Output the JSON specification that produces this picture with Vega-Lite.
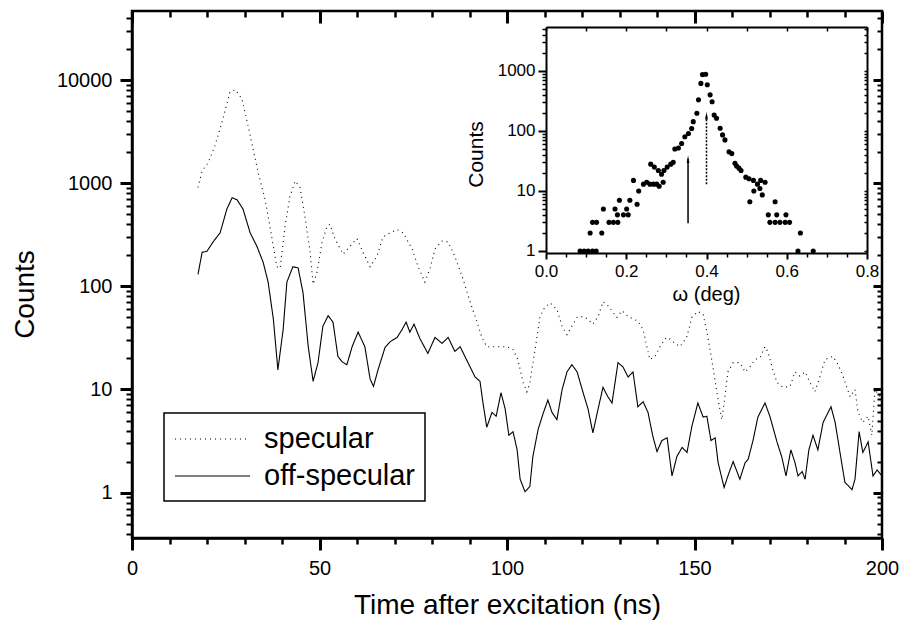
{
"$schema": "https://vega.github.io/schema/vega-lite/v6.json",
"width": 750, "height": 527,
"autosize": {"type": "none"},
"padding": {"left": 132, "top": 11, "right": 23, "bottom": 86},
"config": {
  "font": "Liberation Sans",
  "view": {"stroke": "black", "strokeWidth": 2.5},
  "axis": {"ticks": true, "tickOpacity": 1, "labelFont": "Liberation Sans", "titleFont": "Liberation Sans", "labelColor": "black", "titleColor": "black", "tickColor": "#000000", "domainColor": "black", "grid": false, "titleFontWeight": "normal", "labelOverlap": false, "labelFlush": false},
  "legend": {"labelFont": "Liberation Sans", "labelColor": "black"}
},
"datasets": {
  "main": [
    {"t":17.6,"c":910,"s":"specular"},{"t":18.7,"c":1320,"s":"specular"},{"t":20.3,"c":1580,"s":"specular"},{"t":22.1,"c":2300,"s":"specular"},{"t":24,"c":3900,"s":"specular"},{"t":26.1,"c":7600,"s":"specular"},{"t":27.5,"c":8100,"s":"specular"},{"t":29.3,"c":6600,"s":"specular"},{"t":31,"c":3550,"s":"specular"},{"t":32.3,"c":2140,"s":"specular"},{"t":33.6,"c":1290,"s":"specular"},{"t":35.5,"c":690,"s":"specular"},{"t":36.8,"c":380,"s":"specular"},{"t":38.6,"c":155,"s":"specular"},{"t":39.5,"c":150,"s":"specular"},{"t":40.8,"c":380,"s":"specular"},{"t":42.1,"c":740,"s":"specular"},{"t":43.5,"c":1050,"s":"specular"},{"t":44.8,"c":910,"s":"specular"},{"t":46.1,"c":480,"s":"specular"},{"t":47.5,"c":214,"s":"specular"},{"t":48.3,"c":105,"s":"specular"},{"t":49.3,"c":135,"s":"specular"},{"t":50.7,"c":270,"s":"specular"},{"t":52,"c":380,"s":"specular"},{"t":52.8,"c":400,"s":"specular"},{"t":54.1,"c":290,"s":"specular"},{"t":56.3,"c":205,"s":"specular"},{"t":58.1,"c":245,"s":"specular"},{"t":60,"c":290,"s":"specular"},{"t":61.6,"c":214,"s":"specular"},{"t":63.5,"c":155,"s":"specular"},{"t":65.3,"c":195,"s":"specular"},{"t":66.9,"c":300,"s":"specular"},{"t":68.8,"c":330,"s":"specular"},{"t":70.7,"c":355,"s":"specular"},{"t":72.3,"c":330,"s":"specular"},{"t":74.7,"c":230,"s":"specular"},{"t":76.3,"c":155,"s":"specular"},{"t":78.1,"c":110,"s":"specular"},{"t":79.5,"c":150,"s":"specular"},{"t":80.8,"c":230,"s":"specular"},{"t":82.7,"c":275,"s":"specular"},{"t":84.3,"c":270,"s":"specular"},{"t":86.1,"c":195,"s":"specular"},{"t":88,"c":126,"s":"specular"},{"t":90.1,"c":72,"s":"specular"},{"t":92,"c":45,"s":"specular"},{"t":93.3,"c":32,"s":"specular"},{"t":94.6,"c":26,"s":"specular"},{"t":97.3,"c":26,"s":"specular"},{"t":100,"c":26,"s":"specular"},{"t":101.6,"c":24.5,"s":"specular"},{"t":102.9,"c":19.5,"s":"specular"},{"t":104.3,"c":11.7,"s":"specular"},{"t":105.3,"c":9.5,"s":"specular"},{"t":106.1,"c":11.7,"s":"specular"},{"t":107.5,"c":24.5,"s":"specular"},{"t":108.8,"c":51,"s":"specular"},{"t":110.1,"c":63,"s":"specular"},{"t":111.5,"c":69,"s":"specular"},{"t":113.3,"c":60,"s":"specular"},{"t":114.7,"c":41,"s":"specular"},{"t":116,"c":34,"s":"specular"},{"t":117.3,"c":41,"s":"specular"},{"t":118.7,"c":50,"s":"specular"},{"t":120.3,"c":51,"s":"specular"},{"t":121.6,"c":48,"s":"specular"},{"t":122.9,"c":43,"s":"specular"},{"t":124.3,"c":51,"s":"specular"},{"t":125.6,"c":71,"s":"specular"},{"t":126.9,"c":65,"s":"specular"},{"t":129.3,"c":50,"s":"specular"},{"t":130.7,"c":58,"s":"specular"},{"t":132.3,"c":51,"s":"specular"},{"t":134.9,"c":46,"s":"specular"},{"t":136.3,"c":38,"s":"specular"},{"t":137.3,"c":26,"s":"specular"},{"t":138.1,"c":19.5,"s":"specular"},{"t":139.5,"c":21,"s":"specular"},{"t":140.8,"c":26,"s":"specular"},{"t":142.1,"c":31,"s":"specular"},{"t":142.9,"c":32,"s":"specular"},{"t":144.3,"c":29,"s":"specular"},{"t":146.1,"c":26,"s":"specular"},{"t":147.9,"c":32,"s":"specular"},{"t":149.3,"c":50,"s":"specular"},{"t":150.9,"c":57,"s":"specular"},{"t":152.3,"c":54,"s":"specular"},{"t":153.6,"c":32,"s":"specular"},{"t":154.9,"c":16.6,"s":"specular"},{"t":156.3,"c":7.9,"s":"specular"},{"t":157.3,"c":5.1,"s":"specular"},{"t":158.1,"c":8.5,"s":"specular"},{"t":158.9,"c":14.8,"s":"specular"},{"t":160.3,"c":18.2,"s":"specular"},{"t":162.1,"c":18.2,"s":"specular"},{"t":163.5,"c":14.8,"s":"specular"},{"t":164.8,"c":16.6,"s":"specular"},{"t":166.1,"c":19.5,"s":"specular"},{"t":167.5,"c":20.4,"s":"specular"},{"t":168.8,"c":26,"s":"specular"},{"t":169.6,"c":23,"s":"specular"},{"t":170.9,"c":15.5,"s":"specular"},{"t":172,"c":11.7,"s":"specular"},{"t":173.6,"c":10.5,"s":"specular"},{"t":175.5,"c":10.7,"s":"specular"},{"t":176.8,"c":14.8,"s":"specular"},{"t":178.1,"c":13.5,"s":"specular"},{"t":179.5,"c":14.8,"s":"specular"},{"t":180.8,"c":11.7,"s":"specular"},{"t":182.1,"c":9.5,"s":"specular"},{"t":183.5,"c":13.5,"s":"specular"},{"t":184.8,"c":19.5,"s":"specular"},{"t":186.9,"c":21,"s":"specular"},{"t":188.3,"c":17.4,"s":"specular"},{"t":189.6,"c":13.5,"s":"specular"},{"t":191.5,"c":8.5,"s":"specular"},{"t":192.8,"c":10,"s":"specular"},{"t":193.6,"c":6,"s":"specular"},{"t":194.9,"c":4.8,"s":"specular"},{"t":196.3,"c":5.5,"s":"specular"},{"t":197.3,"c":3.6,"s":"specular"},{"t":198.1,"c":10,"s":"specular"},{"t":199.5,"c":8.5,"s":"specular"},
    {"t":17.6,"c":131,"s":"off-specular"},{"t":18.7,"c":214,"s":"off-specular"},{"t":20,"c":219,"s":"off-specular"},{"t":21.6,"c":269,"s":"off-specular"},{"t":23.5,"c":331,"s":"off-specular"},{"t":25.3,"c":562,"s":"off-specular"},{"t":26.7,"c":724,"s":"off-specular"},{"t":28,"c":692,"s":"off-specular"},{"t":29.6,"c":562,"s":"off-specular"},{"t":31.5,"c":331,"s":"off-specular"},{"t":33.3,"c":245,"s":"off-specular"},{"t":35,"c":170,"s":"off-specular"},{"t":36.3,"c":110,"s":"off-specular"},{"t":37.7,"c":48,"s":"off-specular"},{"t":38.9,"c":15.5,"s":"off-specular"},{"t":40.3,"c":38,"s":"off-specular"},{"t":41.3,"c":110,"s":"off-specular"},{"t":42.9,"c":155,"s":"off-specular"},{"t":44.3,"c":151,"s":"off-specular"},{"t":45.6,"c":87,"s":"off-specular"},{"t":47,"c":26,"s":"off-specular"},{"t":48.3,"c":12,"s":"off-specular"},{"t":49.6,"c":18.2,"s":"off-specular"},{"t":50.9,"c":41,"s":"off-specular"},{"t":52.3,"c":52,"s":"off-specular"},{"t":53.6,"c":45,"s":"off-specular"},{"t":54.9,"c":21,"s":"off-specular"},{"t":56,"c":18.6,"s":"off-specular"},{"t":57.3,"c":17.4,"s":"off-specular"},{"t":58.7,"c":26,"s":"off-specular"},{"t":60.3,"c":36,"s":"off-specular"},{"t":62.1,"c":26,"s":"off-specular"},{"t":63.5,"c":12.6,"s":"off-specular"},{"t":64.4,"c":10.7,"s":"off-specular"},{"t":65.6,"c":15.5,"s":"off-specular"},{"t":67.5,"c":25.7,"s":"off-specular"},{"t":68.8,"c":29,"s":"off-specular"},{"t":70.7,"c":32,"s":"off-specular"},{"t":72,"c":38,"s":"off-specular"},{"t":73.1,"c":45,"s":"off-specular"},{"t":74.1,"c":36,"s":"off-specular"},{"t":75.2,"c":43,"s":"off-specular"},{"t":76.8,"c":31,"s":"off-specular"},{"t":78.9,"c":22.4,"s":"off-specular"},{"t":80.8,"c":32,"s":"off-specular"},{"t":82.7,"c":28,"s":"off-specular"},{"t":84.3,"c":32,"s":"off-specular"},{"t":86.1,"c":23.4,"s":"off-specular"},{"t":87.5,"c":26,"s":"off-specular"},{"t":89.6,"c":18.2,"s":"off-specular"},{"t":91.5,"c":13.2,"s":"off-specular"},{"t":92.8,"c":12,"s":"off-specular"},{"t":93.6,"c":7.4,"s":"off-specular"},{"t":94.6,"c":4.3,"s":"off-specular"},{"t":96,"c":6,"s":"off-specular"},{"t":97.1,"c":5.5,"s":"off-specular"},{"t":98.4,"c":9.3,"s":"off-specular"},{"t":99.5,"c":6.5,"s":"off-specular"},{"t":100.5,"c":3.6,"s":"off-specular"},{"t":101.6,"c":3.9,"s":"off-specular"},{"t":102.7,"c":2.6,"s":"off-specular"},{"t":103.5,"c":1.35,"s":"off-specular"},{"t":104.8,"c":1.02,"s":"off-specular"},{"t":106.1,"c":1.15,"s":"off-specular"},{"t":106.9,"c":2.24,"s":"off-specular"},{"t":108.3,"c":4.1,"s":"off-specular"},{"t":109.6,"c":5.8,"s":"off-specular"},{"t":110.9,"c":7.9,"s":"off-specular"},{"t":112,"c":6,"s":"off-specular"},{"t":113.3,"c":5.1,"s":"off-specular"},{"t":114.7,"c":10,"s":"off-specular"},{"t":116,"c":14.8,"s":"off-specular"},{"t":117.3,"c":17.4,"s":"off-specular"},{"t":118.7,"c":14.8,"s":"off-specular"},{"t":120.3,"c":9.3,"s":"off-specular"},{"t":121.6,"c":6.5,"s":"off-specular"},{"t":122.9,"c":3.8,"s":"off-specular"},{"t":124.3,"c":6.5,"s":"off-specular"},{"t":125.6,"c":10.5,"s":"off-specular"},{"t":126.9,"c":8.5,"s":"off-specular"},{"t":128,"c":7.4,"s":"off-specular"},{"t":129.6,"c":18.2,"s":"off-specular"},{"t":130.9,"c":16.6,"s":"off-specular"},{"t":132.3,"c":13.2,"s":"off-specular"},{"t":133.6,"c":14.8,"s":"off-specular"},{"t":134.9,"c":6.8,"s":"off-specular"},{"t":136.3,"c":7.6,"s":"off-specular"},{"t":137.6,"c":6,"s":"off-specular"},{"t":138.9,"c":3.5,"s":"off-specular"},{"t":140,"c":2.5,"s":"off-specular"},{"t":141.3,"c":3.2,"s":"off-specular"},{"t":142.7,"c":3.4,"s":"off-specular"},{"t":144,"c":1.45,"s":"off-specular"},{"t":145.3,"c":2.24,"s":"off-specular"},{"t":146.7,"c":2.75,"s":"off-specular"},{"t":148,"c":2.45,"s":"off-specular"},{"t":149.3,"c":4.4,"s":"off-specular"},{"t":150.9,"c":7.4,"s":"off-specular"},{"t":152.3,"c":5.4,"s":"off-specular"},{"t":153.3,"c":5.5,"s":"off-specular"},{"t":154.4,"c":3.2,"s":"off-specular"},{"t":155.5,"c":3.4,"s":"off-specular"},{"t":156.3,"c":1.95,"s":"off-specular"},{"t":157.9,"c":1.12,"s":"off-specular"},{"t":158.9,"c":1.45,"s":"off-specular"},{"t":160.3,"c":2,"s":"off-specular"},{"t":162.1,"c":1.35,"s":"off-specular"},{"t":163.5,"c":1.95,"s":"off-specular"},{"t":164.3,"c":2.1,"s":"off-specular"},{"t":165.6,"c":3.2,"s":"off-specular"},{"t":166.9,"c":5.4,"s":"off-specular"},{"t":168.8,"c":7.4,"s":"off-specular"},{"t":170.1,"c":5.5,"s":"off-specular"},{"t":172,"c":3.1,"s":"off-specular"},{"t":173.3,"c":2.2,"s":"off-specular"},{"t":174.4,"c":1.45,"s":"off-specular"},{"t":175.7,"c":2.6,"s":"off-specular"},{"t":176.8,"c":1.95,"s":"off-specular"},{"t":177.6,"c":1.45,"s":"off-specular"},{"t":178.7,"c":1.6,"s":"off-specular"},{"t":179.5,"c":1.35,"s":"off-specular"},{"t":180.5,"c":2.6,"s":"off-specular"},{"t":181.6,"c":3.6,"s":"off-specular"},{"t":182.9,"c":2.6,"s":"off-specular"},{"t":184.3,"c":4.8,"s":"off-specular"},{"t":186.4,"c":6.8,"s":"off-specular"},{"t":187.5,"c":4.8,"s":"off-specular"},{"t":188.8,"c":2.45,"s":"off-specular"},{"t":190.1,"c":1.26,"s":"off-specular"},{"t":192,"c":1.07,"s":"off-specular"},{"t":192.8,"c":1.35,"s":"off-specular"},{"t":193.9,"c":3.9,"s":"off-specular"},{"t":194.9,"c":2.45,"s":"off-specular"},{"t":196.3,"c":3.1,"s":"off-specular"},{"t":197.6,"c":1.45,"s":"off-specular"},{"t":198.7,"c":1.66,"s":"off-specular"},{"t":200,"c":1.45,"s":"off-specular"}
  ],
  "inset": [
    {"w":0.085,"c":1},{"w":0.095,"c":1},{"w":0.105,"c":1},{"w":0.116,"c":1},{"w":0.125,"c":1},{"w":0.11,"c":2},{"w":0.139,"c":2},{"w":0.116,"c":3},{"w":0.126,"c":3},{"w":0.143,"c":5},{"w":0.157,"c":3},{"w":0.168,"c":3},{"w":0.179,"c":3},{"w":0.172,"c":5},{"w":0.178,"c":4},{"w":0.193,"c":4},{"w":0.205,"c":4},{"w":0.201,"c":5},{"w":0.183,"c":7},{"w":0.209,"c":7},{"w":0.218,"c":15},{"w":0.227,"c":6},{"w":0.231,"c":10},{"w":0.243,"c":13},{"w":0.251,"c":14},{"w":0.259,"c":13},{"w":0.268,"c":13},{"w":0.276,"c":13},{"w":0.282,"c":12},{"w":0.292,"c":14},{"w":0.261,"c":28},{"w":0.27,"c":25},{"w":0.28,"c":22},{"w":0.288,"c":19},{"w":0.294,"c":22},{"w":0.302,"c":25},{"w":0.311,"c":28},{"w":0.317,"c":30},{"w":0.321,"c":50},{"w":0.33,"c":52},{"w":0.338,"c":62},{"w":0.346,"c":80},{"w":0.355,"c":91},{"w":0.363,"c":110},{"w":0.367,"c":143},{"w":0.376,"c":197},{"w":0.38,"c":330},{"w":0.386,"c":620},{"w":0.39,"c":870},{"w":0.398,"c":880},{"w":0.402,"c":590},{"w":0.409,"c":400},{"w":0.414,"c":306},{"w":0.419,"c":184},{"w":0.425,"c":163},{"w":0.434,"c":111},{"w":0.44,"c":86},{"w":0.446,"c":71},{"w":0.456,"c":45},{"w":0.463,"c":42},{"w":0.471,"c":29},{"w":0.475,"c":26},{"w":0.481,"c":24},{"w":0.486,"c":22},{"w":0.498,"c":17},{"w":0.506,"c":16},{"w":0.517,"c":15},{"w":0.527,"c":13},{"w":0.535,"c":15},{"w":0.546,"c":14},{"w":0.508,"c":6.6},{"w":0.518,"c":10},{"w":0.533,"c":11},{"w":0.539,"c":8.6},{"w":0.554,"c":4},{"w":0.571,"c":6.6},{"w":0.558,"c":3},{"w":0.571,"c":3},{"w":0.583,"c":3},{"w":0.596,"c":3},{"w":0.607,"c":3},{"w":0.575,"c":4},{"w":0.598,"c":4},{"w":0.634,"c":2},{"w":0.628,"c":1},{"w":0.666,"c":1}
  ],
  "arrows": [
    {"w":0.354,"lo":2.9,"hi":34,"kind":"solid"},
    {"w":0.4,"lo":13,"hi":180,"kind":"dotted"}
  ]
},
"layer": [
  {
    "data": {"name": "main"},
    "mark": {"type": "line", "color": "black", "strokeWidth": 1.1},
    "encoding": {
      "x": {"field": "t", "type": "quantitative",
        "scale": {"domain": [0, 200], "nice": false, "zero": false},
        "axis": {"orient": "bottom", "values": [0,50,100,150,200], "ticks": true, "tickSize": 12, "tickWidth": 3, "tickColor": "#000000", "domainWidth": 2.5, "labelFontSize": 20, "labelPadding": 8,
          "title": "Time after excitation (ns)", "titleFontSize": 28, "titleY": 75, "titleBaseline": "alphabetic"}},
      "y": {"field": "c", "type": "quantitative",
        "scale": {"type": "log", "domain": [0.363, 46800], "nice": false},
        "axis": {"orient": "left", "values": [1,10,100,1000,10000], "format": "d", "ticks": true, "tickSize": 12, "tickWidth": 3, "tickColor": "#000000", "domainWidth": 2.5, "labelFontSize": 20, "labelPadding": 8,
          "title": "Counts", "titleFontSize": 28, "titleX": -99, "titleY": 283, "titleBaseline": "alphabetic", "titleAngle": 270, "titleAlign": "center"}},
      "strokeDash": {"field": "s", "type": "nominal",
        "scale": {"domain": ["specular", "off-specular"], "range": [[1, 4], [1, 0]]},
        "legend": {"orient": "none", "legendX": 32, "legendY": 402, "title": null, "strokeColor": "black", "fillColor": "white", "padding": 10, "labelFontSize": 29, "symbolType": "M-1,0L4,0", "symbolSize": 900, "symbolStrokeWidth": 1.2, "symbolStrokeColor": "black", "labelOffset": 58, "rowPadding": 6, "cornerRadius": 0,
          "encode": {"legend": {"update": {"strokeWidth": {"value": 1.5}}}}}}
    }
  },
  {
    "data": {"name": "main"},
    "mark": {"type": "point", "opacity": 0},
    "encoding": {
      "x": {"field": "t", "type": "quantitative", "scale": {"domain": [0, 200], "nice": false, "zero": false},
        "axis": {"orient": "bottom", "values": [10,20,30,40,60,70,80,90,110,120,130,140,160,170,180,190], "labels": false, "domain": false, "title": null, "ticks": true, "tickWidth": 2.5, "tickColor": "#000000", "tickSize": 6}},
      "y": {"field": "c", "type": "quantitative", "scale": {"type": "log", "domain": [0.363, 46800], "nice": false},
        "axis": {"orient": "left", "values": [0.4,0.5,0.6,0.7,0.8,0.9,2,3,4,5,6,7,8,9,20,30,40,50,60,70,80,90,200,300,400,500,600,700,800,900,2000,3000,4000,5000,6000,7000,8000,9000,20000,30000,40000], "labels": false, "domain": false, "title": null, "ticks": true, "tickWidth": 2, "tickColor": "#000000", "tickSize": 6}}
    }
  },
  {
    "data": {"name": "main"},
    "mark": {"type": "point", "opacity": 0},
    "encoding": {
      "x": {"field": "t", "type": "quantitative", "scale": {"domain": [0, 200], "nice": false, "zero": false},
        "axis": {"orient": "bottom", "offset": -527, "values": [0,50,100,150,200], "labels": false, "domain": false, "title": null, "ticks": true, "tickWidth": 3, "tickColor": "#000000", "tickSize": 12}},
      "y": {"field": "c", "type": "quantitative", "scale": {"type": "log", "domain": [0.363, 46800], "nice": false},
        "axis": {"orient": "left", "offset": -750, "values": [1,10,100,1000,10000], "labels": false, "domain": false, "title": null, "ticks": true, "tickWidth": 3, "tickColor": "#000000", "tickSize": 9}}
    }
  },
  {
    "data": {"name": "main"},
    "mark": {"type": "point", "opacity": 0},
    "encoding": {
      "x": {"field": "t", "type": "quantitative", "scale": {"domain": [0, 200], "nice": false, "zero": false},
        "axis": {"orient": "bottom", "offset": -527, "values": [10,20,30,40,60,70,80,90,110,120,130,140,160,170,180,190], "labels": false, "domain": false, "title": null, "ticks": true, "tickWidth": 2.5, "tickColor": "#000000", "tickSize": 6}},
      "y": {"field": "c", "type": "quantitative", "scale": {"type": "log", "domain": [0.363, 46800], "nice": false},
        "axis": {"orient": "left", "offset": -750, "values": [0.4,0.5,0.6,0.7,0.8,0.9,2,3,4,5,6,7,8,9,20,30,40,50,60,70,80,90,200,300,400,500,600,700,800,900,2000,3000,4000,5000,6000,7000,8000,9000,20000,30000,40000], "labels": false, "domain": false, "title": null, "ticks": true, "tickWidth": 2, "tickColor": "#000000", "tickSize": 5}}
    }
  },
  {
    "layer": [
      {
        "data": {"name": "inset"},
        "mark": {"type": "circle", "size": 26, "color": "black", "opacity": 1},
        "encoding": {
          "x": {"field": "w", "type": "quantitative",
            "scale": {"domain": [0, 0.8], "range": [414, 735], "nice": false, "zero": false},
            "axis": {"orient": "bottom", "offset": -285, "values": [0,0.2,0.4,0.6,0.8], "format": ".1f", "ticks": true, "tickSize": 6, "tickWidth": 2, "tickColor": "#000000",
              "domainWidth": 2, "labelFontSize": 17, "labelPadding": 4,
              "title": "ω (deg)", "titleFontSize": 20, "titleX": 574, "titleY": 47, "titleBaseline": "alphabetic"}},
          "y": {"field": "c", "type": "quantitative",
            "scale": {"type": "log", "domain": [0.926, 5400], "range": [242, 16], "nice": false},
            "axis": {"orient": "left", "offset": -414, "values": [1,10,100,1000], "format": "d", "ticks": true, "tickSize": 8, "tickWidth": 2, "tickColor": "#000000",
              "domainWidth": 2, "labelFontSize": 17, "labelPadding": 3,
              "title": "Counts", "titleFontSize": 21, "titleX": -64, "titleY": 143, "titleBaseline": "alphabetic", "titleAngle": 270, "titleAlign": "center"}}
        }
      },
      {
        "data": {"name": "arrows"},
        "mark": {"type": "rule", "color": "black", "strokeWidth": 1.5},
        "encoding": {
          "x": {"field": "w", "type": "quantitative"},
          "y": {"field": "lo", "type": "quantitative"},
          "y2": {"field": "hi"},
          "strokeDash": {"condition": {"test": "datum.kind === 'dotted'", "value": [2, 1.5]}, "value": [1, 0]}
        }
      },
      {
        "data": {"name": "arrows"},
        "mark": {"type": "point", "shape": "M-0.35,1L0,-1L0.35,1Z", "filled": true, "color": "black", "size": 60, "opacity": 1},
        "encoding": {
          "x": {"field": "w", "type": "quantitative"},
          "y": {"field": "hi", "type": "quantitative"}
        }
      }
    ]
  },
  {
    "data": {"name": "inset"},
    "mark": {"type": "point", "opacity": 0},
    "encoding": {
      "x": {"field": "w", "type": "quantitative", "scale": {"domain": [0, 0.8], "range": [414, 735], "nice": false, "zero": false},
        "axis": {"orient": "bottom", "offset": -285, "values": [0.05,0.1,0.15,0.25,0.3,0.35,0.45,0.5,0.55,0.65,0.7,0.75], "labels": false, "domain": false, "title": null, "ticks": true, "tickWidth": 1.5, "tickColor": "#000000", "tickSize": 4}},
      "y": {"field": "c", "type": "quantitative", "scale": {"type": "log", "domain": [0.926, 5400], "range": [242, 16], "nice": false},
        "axis": {"orient": "left", "offset": -414, "values": [2,3,4,5,6,7,8,9,20,30,40,50,60,70,80,90,200,300,400,500,600,700,800,900,2000,3000,4000,5000], "labels": false, "domain": false, "title": null, "ticks": true, "tickWidth": 1.5, "tickColor": "#000000", "tickSize": 4}}
    }
  },
  {
    "data": {"name": "inset"},
    "mark": {"type": "point", "opacity": 0},
    "encoding": {
      "x": {"field": "w", "type": "quantitative", "scale": {"domain": [0, 0.8], "range": [414, 735], "nice": false, "zero": false},
        "axis": {"orient": "bottom", "offset": -511, "values": [0,0.1,0.2,0.3,0.4,0.5,0.6,0.7,0.8], "labels": false, "title": null, "domainWidth": 2, "ticks": true, "tickWidth": 1.5, "tickColor": "#000000", "tickSize": 4}},
      "y": {"field": "c", "type": "quantitative", "scale": {"type": "log", "domain": [0.926, 5400], "range": [242, 16], "nice": false},
        "axis": {"orient": "left", "offset": -735, "values": [1,2,3,4,5,6,7,8,9,10,20,30,40,50,60,70,80,90,100,200,300,400,500,600,700,800,900,1000,2000,3000,4000,5000], "labels": false, "title": null, "domainWidth": 2, "ticks": true, "tickWidth": 1.5, "tickColor": "#000000", "tickSize": 3}}
    }
  }
],
"resolve": {"scale": {"x": "independent", "y": "independent", "strokeDash": "independent"}}
}
